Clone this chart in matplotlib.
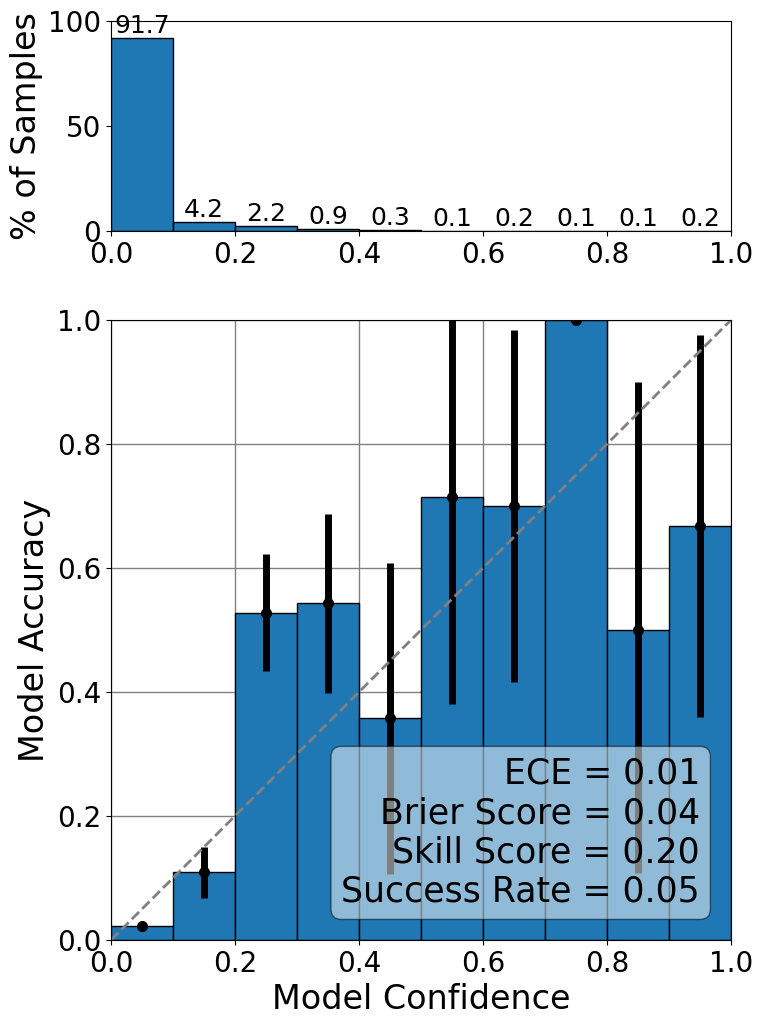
import matplotlib
matplotlib.use("Agg")
import matplotlib.pyplot as plt
import numpy as np

bin_edges = [0.0, 0.1, 0.2, 0.3, 0.4, 0.5, 0.6, 0.7, 0.8, 0.9, 1.0]
bin_centers = [0.05, 0.15, 0.25, 0.35, 0.45, 0.55, 0.65, 0.75, 0.85, 0.95]
pct_samples = [91.7, 4.2, 2.2, 0.9, 0.3, 0.1, 0.2, 0.1, 0.1, 0.2]
accuracy = [0.022, 0.11, 0.527, 0.544, 0.358, 0.714, 0.70, 1.0, 0.50, 0.667]
err_low = [0.022, 0.068, 0.434, 0.398, 0.106, 0.381, 0.416, 1.0, 0.108, 0.36]
err_high = [0.022, 0.15, 0.623, 0.687, 0.608, 1.05, 0.984, 1.0, 0.90, 0.976]
metrics_text = "ECE = 0.01\nBrier Score = 0.04\nSkill Score = 0.20\nSuccess Rate = 0.05"

fig = plt.figure(figsize=(7.63, 10.26), dpi=100)
L, W = 111/763, 620/763
ax1 = fig.add_axes([L, (1026-231)/1026, W, 210/1026])
ax2 = fig.add_axes([L, (1026-940)/1026, W, 620/1026])

width = 0.1
lefts = bin_edges[:-1]
ax1.bar(lefts, pct_samples, width=width, align='edge', color='#1f77b4', edgecolor='black')
for c, v in zip(bin_centers, pct_samples):
    ax1.text(c, v, f"{v:.1f}", ha='center', va='bottom', fontsize=18)
ax1.set_xlim(0, 1)
ax1.set_ylim(0, 100)
ax1.set_ylabel("% of Samples", fontsize=24)
ax1.tick_params(labelsize=20)

ax2.set_axisbelow(True)
ax2.grid(True, color='gray', linewidth=1)
ax2.bar(lefts, accuracy, width=width, align='edge', color='#1f77b4', edgecolor='black')
acc = np.array(accuracy)
yerr = np.vstack([acc - np.array(err_low), np.array(err_high) - acc])
yerr = np.clip(yerr, 0, None)
ax2.errorbar(bin_centers, accuracy, yerr=yerr, fmt='o', color='black', elinewidth=5, markersize=7, capsize=0)
ax2.plot([0, 1], [0, 1], linestyle='--', color='gray', linewidth=2)
ax2.set_xlim(0, 1)
ax2.set_ylim(0, 1)
ax2.set_xlabel("Model Confidence", fontsize=24)
ax2.set_ylabel("Model Accuracy", fontsize=24)
ax2.tick_params(labelsize=20)
ax2.text(0.95, 0.05, metrics_text, transform=ax2.transAxes, ha='right', va='bottom', fontsize=25,
         bbox=dict(boxstyle='round', facecolor='white', alpha=0.5))

fig.savefig("out.png", dpi=100)
